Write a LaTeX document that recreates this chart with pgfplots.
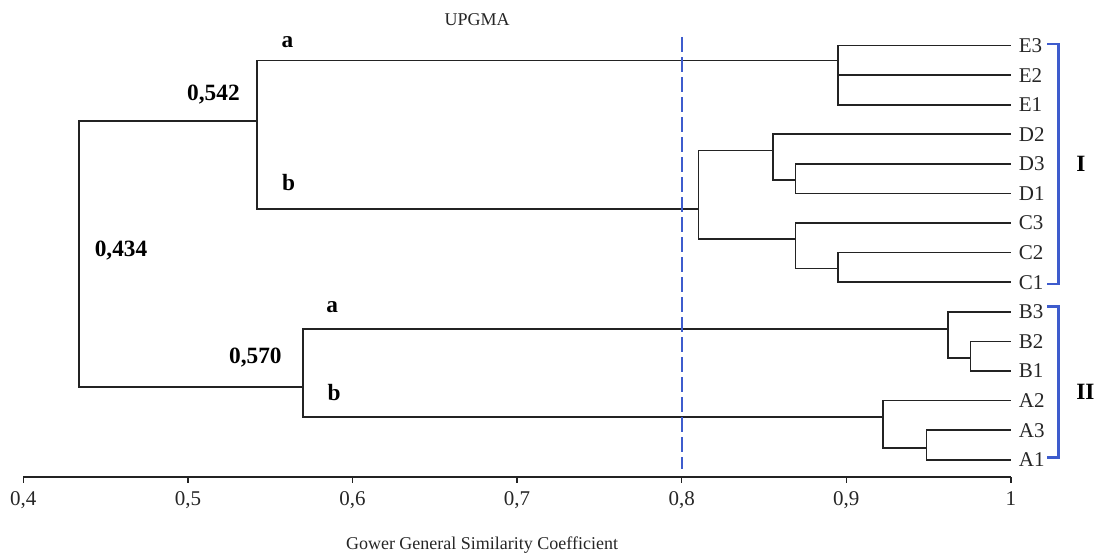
\documentclass[border=0pt]{standalone}
\usepackage{pgfplots}
\pgfplotsset{compat=1.18}
\usepackage{fontspec}
\setmainfont{Liberation Serif}
\definecolor{grpblue}{RGB}{62,92,205}
\definecolor{tree}{RGB}{35,35,35}
\newcommand{\leaffont}{\fontsize{15.75}{18}\selectfont}
\newcommand{\bigbold}{\fontsize{17.5}{20}\selectfont\bfseries}
\newcommand{\smallfont}{\fontsize{13.5}{16}\selectfont}

\begin{document}
\begin{tikzpicture}
\begin{axis}[
    scale only axis,
    width=740.8pt, height=357.75pt,
    xmin=0.4, xmax=1, ymin=-14.58, ymax=1.537,
    axis x line*=bottom, axis y line=none,
    xtick={0.4,0.5,0.6,0.7,0.8,0.9,1},
    xticklabels={{0,4},{0,5},{0,6},{0,7},{0,8},{0,9},1},
    tick align=outside, major tick length=4.5pt,
    x axis line style={line width=1.2pt, color=tree},
    every tick/.style={line width=1pt, color=tree},
    ticklabel style={font=\leaffont, text=black!85, yshift=-3pt},
    clip=false,
]
% dendrogram branches (x = similarity, y = -row)
\addplot[tree, line width=1.3pt] coordinates {(1,0) (0.8948,0) (0.8948,-2) (1,-2)};
\addplot[tree, line width=1.3pt] coordinates {(0.8948,-1) (1,-1)};
\addplot[tree, line width=1.3pt] coordinates {(1,-4) (0.8691,-4) (0.8691,-5) (1,-5)};
\addplot[tree, line width=1.3pt] coordinates {(1,-3) (0.8553,-3) (0.8553,-4.54) (0.8691,-4.54)};
\addplot[tree, line width=1.3pt] coordinates {(1,-7) (0.8948,-7) (0.8948,-8) (1,-8)};
\addplot[tree, line width=1.3pt] coordinates {(1,-6) (0.8691,-6) (0.8691,-7.54) (0.8948,-7.54)};
\addplot[tree, line width=1.3pt] coordinates {(0.8553,-3.55) (0.8102,-3.55) (0.8102,-6.55) (0.8691,-6.55)};
\addplot[tree, line width=1.3pt] coordinates {(0.8948,-0.51) (0.542,-0.51) (0.542,-5.53) (0.8102,-5.53)};
\addplot[tree, line width=1.3pt] coordinates {(1,-10) (0.9754,-10) (0.9754,-11) (1,-11)};
\addplot[tree, line width=1.3pt] coordinates {(1,-9) (0.9617,-9) (0.9617,-10.57) (0.9754,-10.57)};
\addplot[tree, line width=1.3pt] coordinates {(1,-13) (0.9487,-13) (0.9487,-14) (1,-14)};
\addplot[tree, line width=1.3pt] coordinates {(1,-12) (0.9222,-12) (0.9222,-13.59) (0.9487,-13.59)};
\addplot[tree, line width=1.3pt] coordinates {(0.9617,-9.58) (0.570,-9.58) (0.570,-12.56) (0.9222,-12.56)};
\addplot[tree, line width=1.3pt] coordinates {(0.542,-2.54) (0.434,-2.54) (0.434,-11.55) (0.570,-11.55)};
% cut-off line
\addplot[grpblue, line width=1.8pt, dash pattern=on 11pt off 4pt] coordinates {(0.8,0.29) (0.8,-14.31)};
% group brackets
\addplot[grpblue, line width=2pt] coordinates {(1.0221,0.05) (1.0288,0.05) (1.0288,-8.06) (1.0221,-8.06)};
\addplot[grpblue, line width=2pt] coordinates {(1.0221,-8.83) (1.0288,-8.83) (1.0288,-13.93) (1.0221,-13.93)};
% leaf names
\node[anchor=west, font=\leaffont, text=black!85] at (axis cs:1.002,0) {E3};
\node[anchor=west, font=\leaffont, text=black!85] at (axis cs:1.002,-1) {E2};
\node[anchor=west, font=\leaffont, text=black!85] at (axis cs:1.002,-2) {E1};
\node[anchor=west, font=\leaffont, text=black!85] at (axis cs:1.002,-3) {D2};
\node[anchor=west, font=\leaffont, text=black!85] at (axis cs:1.002,-4) {D3};
\node[anchor=west, font=\leaffont, text=black!85] at (axis cs:1.002,-5) {D1};
\node[anchor=west, font=\leaffont, text=black!85] at (axis cs:1.002,-6) {C3};
\node[anchor=west, font=\leaffont, text=black!85] at (axis cs:1.002,-7) {C2};
\node[anchor=west, font=\leaffont, text=black!85] at (axis cs:1.002,-8) {C1};
\node[anchor=west, font=\leaffont, text=black!85] at (axis cs:1.002,-9) {B3};
\node[anchor=west, font=\leaffont, text=black!85] at (axis cs:1.002,-10) {B2};
\node[anchor=west, font=\leaffont, text=black!85] at (axis cs:1.002,-11) {B1};
\node[anchor=west, font=\leaffont, text=black!85] at (axis cs:1.002,-12) {A2};
\node[anchor=west, font=\leaffont, text=black!85] at (axis cs:1.002,-13) {A3};
\node[anchor=west, font=\leaffont, text=black!85] at (axis cs:1.002,-14) {A1};
% group and node annotations
\node[font=\bigbold] at (axis cs:1.0426,-4.0) {I};
\node[font=\bigbold] at (axis cs:1.0453,-11.70) {II};
\node[font=\bigbold] at (axis cs:0.5605,0.128) {a};
\node[font=\bigbold] at (axis cs:0.5612,-4.63) {b};
\node[font=\bigbold] at (axis cs:0.5876,-8.84) {a};
\node[font=\bigbold] at (axis cs:0.5888,-11.73) {b};
\node[font=\bigbold] at (axis cs:0.5155,-1.65) {0,542};
\node[font=\bigbold] at (axis cs:0.4594,-6.93) {0,434};
\node[font=\bigbold] at (axis cs:0.5410,-10.53) {0,570};
\node[font=\smallfont, text=black!85] at (axis cs:0.6757,0.878) {UPGMA};
\node[font=\smallfont, text=black!85] at (axis cs:0.6787,-16.88) {Gower General Similarity Coefficient};
\coordinate (bbl) at (axis cs:0.38584,-17.28);
\coordinate (btr) at (axis cs:1.05231,1.537);
\end{axis}
\pgfresetboundingbox
\path (bbl) rectangle (btr);
\end{tikzpicture}
\end{document}
